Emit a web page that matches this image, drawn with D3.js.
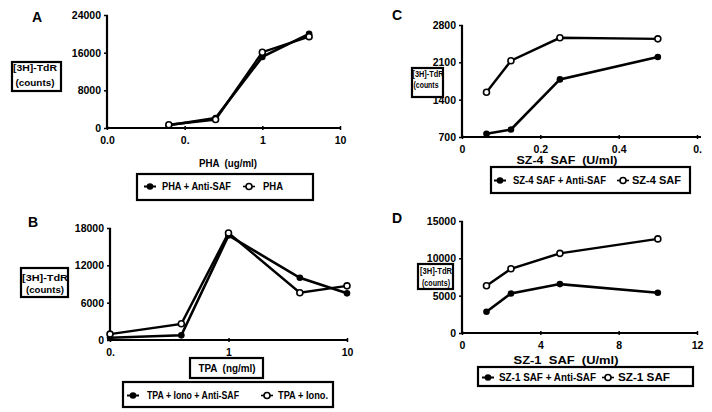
<!DOCTYPE html>
<html><head><meta charset="utf-8">
<script src="https://cdn.jsdelivr.net/npm/d3@7"></script>
<style>
html,body{margin:0;padding:0;background:#fff;}
svg{display:block;}
text{font-family:"Liberation Sans",Arial,sans-serif;font-weight:bold;fill:#000;}
</style></head>
<body><svg id="c" width="712" height="412"></svg>
<script>
// ---- Data ----
const phaX = [0.0625, 0.25, 1, 4];
const phaAntiSAF = [600, 2100, 15100, 20000];
const phaOnly = [700, 1800, 16100, 19400];
const phaTicksX = [0.01, 0.1, 1, 10];
const phaTickLabelsX = ["0.0", "0.", "1", "10"];
const phaTicksY = [0, 8000, 16000, 24000];

const tpaX = [0.1, 0.4, 1, 4, 10];
const tpaAntiSAF = [350, 750, 16800, 10000, 7500];
const tpaOnly = [950, 2600, 17200, 7600, 8700];
const tpaTicksX = [0.1, 1, 10];
const tpaTickLabelsX = ["0.", "1", "10"];
const tpaTicksY = [0, 6000, 12000, 18000];

const sz4X = [0.0625, 0.125, 0.25, 0.5];
const sz4AntiSAF = [760, 840, 1780, 2200];
const sz4Only = [1540, 2130, 2560, 2540];
const sz4TicksX = [0, 0.2, 0.4, 0.6];
const sz4TickLabelsX = ["0", "0.2", "0.4", "0."];
const sz4TicksY = [700, 1400, 2100, 2800];

const sz1X = [1.25, 2.5, 5, 10];
const sz1AntiSAF = [2850, 5300, 6550, 5400];
const sz1Only = [6330, 8600, 10670, 12600];
const sz1TicksX = [0, 4, 8, 12];
const sz1TickLabelsX = ["0", "4", "8", "12"];
const sz1TicksY = [0, 5000, 10000, 15000];

const panels = [
  {letter:"A", lx:32, ly:22, log:true, xd:[0.01,10], xr:[107,340], yd:[0,24000], yr:[128,15],
   xs:phaX, s1:phaAntiSAF, s2:phaOnly, tx:phaTicksX, txl:phaTickLabelsX, ty:phaTicksY,
   xlabel:"PHA  (ug/ml)", xlx:228, xly:167, xlw:58, xbox:null,
   ybox:[12,62,49,29], ylab:["[3H]-TdR","(counts)"], yl:[[35,71,44],[35,86,39]],
   leg:{box:[137,174,176,26], ty:190, m1:150, t1:"PHA + Anti-SAF", tx1:162, tw1:69, m2:249, t2:"PHA", tx2:263, tw2:20}},
  {letter:"B", lx:28, ly:227, log:true, xd:[0.1,10], xr:[110,347], yd:[0,18000], yr:[340,228],
   xs:tpaX, s1:tpaAntiSAF, s2:tpaOnly, tx:tpaTicksX, txl:tpaTickLabelsX, ty:tpaTicksY,
   xlabel:"TPA  (ng/ml)", xlx:227, xly:372, xlw:57, xbox:[190,358,73,20],
   ybox:[21,268,47,29], ylab:["[3H]-TdR","(counts)"], yl:[[45,281,46],[45,293,38]],
   leg:{box:[123,382,210,25], ty:399, m1:133, t1:"TPA + Iono + Anti-SAF", tx1:147, tw1:92, m2:267, t2:"TPA + Iono.", tx2:278, tw2:50}},
  {letter:"C", lx:392, ly:20, log:false, xd:[0,0.6], xr:[462,697], xend:701, yd:[700,2800], yr:[137,25],
   xs:sz4X, s1:sz4AntiSAF, s2:sz4Only, tx:sz4TicksX, txl:sz4TickLabelsX, ty:sz4TicksY,
   xlabel:"SZ-4  SAF  (U/ml)", xlx:567, xly:164, xlw:101, xbox:null,
   ybox:[412,68,31,29], ylab:["[3H]-TdR","(counts"], yl:[[428,77,31],[426,88,25]],
   leg:{box:[491,167,199,26], ty:184, m1:500, t1:"SZ-4 SAF + Anti-SAF", tx1:513, tw1:93, m2:623, t2:"SZ-4 SAF", tx2:632, tw2:49}},
  {letter:"D", lx:392, ly:223, log:false, xd:[0,12], xr:[462,697], yd:[0,15000], yr:[333,221],
   xs:sz1X, s1:sz1AntiSAF, s2:sz1Only, tx:sz1TicksX, txl:sz1TickLabelsX, ty:sz1TicksY,
   xlabel:"SZ-1  SAF  (U/ml)", xlx:566, xly:364, xlw:105, xbox:null,
   ybox:[418,264,35,25], ylab:["[3H]-TdR","(counts)"], yl:[[436,274,32],[436,286,28]],
   leg:{box:[478,367,215,19], ty:381, m1:488, t1:"SZ-1 SAF + Anti-SAF", tx1:499, tw1:97, m2:608, t2:"SZ-1 SAF", tx2:618, tw2:52}}
];

const svg = d3.select("#c");

function filledMarker(g, x, y){
  g.append("circle").attr("cx",x).attr("cy",y).attr("r",3.3).attr("fill","#000");
}
function openMarker(g, x, y){
  g.append("circle").attr("cx",x).attr("cy",y).attr("r",3).attr("fill","#fff")
    .attr("stroke","#000").attr("stroke-width",1.6);
}
function fitText(g, x, y, str, w, size, anchor){
  return g.append("text").attr("x",x).attr("y",y).attr("font-size",size)
    .attr("text-anchor",anchor||"start")
    .attr("textLength",w).attr("lengthAdjust","spacingAndGlyphs")
    .style("white-space","pre").text(str);
}

panels.forEach(p => {
  const g = svg.append("g");
  const x = (p.log ? d3.scaleLog() : d3.scaleLinear()).domain(p.xd).range(p.xr);
  const y = d3.scaleLinear().domain(p.yd).range(p.yr);

  g.append("text").attr("x",p.lx).attr("y",p.ly).attr("font-size",14).text(p.letter);

  // x axis
  const xa = d3.axisBottom(x).tickValues(p.tx).tickFormat((d,i)=>p.txl[i]).tickSizeOuter(0).tickSizeInner(3);
  const gx = g.append("g").attr("transform",`translate(0,${p.yr[0]})`).call(xa);
  gx.select(".domain").remove();
  gx.append("line").attr("x1",p.xr[0]).attr("x2",p.xend||p.xr[1]).attr("y1",0).attr("y2",0)
    .attr("stroke","#000").attr("stroke-width",2.2);
  gx.selectAll(".tick line").attr("y1",-2).attr("y2",2).attr("stroke","#000").attr("stroke-width",1.5);
  gx.selectAll(".tick text").attr("y",9).attr("font-size",10.5)
    .attr("font-family",'"Liberation Sans",Arial,sans-serif').attr("font-weight","bold").attr("fill","#000");

  // y axis
  const ya = d3.axisLeft(y).tickValues(p.ty).tickFormat(d3.format("d")).tickSizeOuter(0).tickSizeInner(3);
  const gy = g.append("g").attr("transform",`translate(${p.xr[0]},0)`).call(ya);
  gy.select(".domain").remove();
  gy.append("line").attr("x1",0).attr("x2",0).attr("y1",p.yr[0]+1).attr("y2",p.yr[1])
    .attr("stroke","#000").attr("stroke-width",2.2);
  gy.selectAll(".tick line").attr("x1",-3).attr("x2",1).attr("stroke","#000").attr("stroke-width",1.5);
  gy.selectAll(".tick text").attr("x",-6).attr("font-size",10.5)
    .attr("font-family",'"Liberation Sans",Arial,sans-serif').attr("font-weight","bold").attr("fill","#000");

  // lines
  const line = d3.line().x((d,i)=>x(p.xs[i])).y(d=>y(d));
  g.append("path").datum(p.s2).attr("d",line).attr("fill","none").attr("stroke","#000").attr("stroke-width",2.4);
  g.append("path").datum(p.s1).attr("d",line).attr("fill","none").attr("stroke","#000").attr("stroke-width",2.6);
  p.s1.forEach((v,i)=>filledMarker(g, x(p.xs[i]), y(v)));
  p.s2.forEach((v,i)=>openMarker(g, x(p.xs[i]), y(v)));

  // x label
  if (p.xbox) {
    g.append("rect").attr("x",p.xbox[0]).attr("y",p.xbox[1]).attr("width",p.xbox[2]).attr("height",p.xbox[3])
      .attr("fill","#fff").attr("stroke","#000").attr("stroke-width",2.2);
  }
  fitText(g, p.xlx, p.xly, p.xlabel, p.xlw, 10.5, "middle");

  // y label box
  const yb = p.ybox;
  g.append("rect").attr("x",yb[0]).attr("y",yb[1]).attr("width",yb[2]).attr("height",yb[3])
    .attr("fill","#fff").attr("stroke","#000").attr("stroke-width",2.2);
  fitText(g, p.yl[0][0], p.yl[0][1], p.ylab[0], p.yl[0][2], 9.5, "middle");
  fitText(g, p.yl[1][0], p.yl[1][1], p.ylab[1], p.yl[1][2], 9.5, "middle");

  // legend
  const L = p.leg;
  g.append("rect").attr("x",L.box[0]).attr("y",L.box[1]).attr("width",L.box[2]).attr("height",L.box[3])
    .attr("fill","#fff").attr("stroke","#000").attr("stroke-width",2.2);
  const my = L.ty - 3.5;
  g.append("line").attr("x1",L.m1-6).attr("x2",L.m1+6).attr("y1",my).attr("y2",my).attr("stroke","#000").attr("stroke-width",2);
  filledMarker(g, L.m1, my);
  fitText(g, L.tx1, L.ty, L.t1, L.tw1, 10);
  g.append("line").attr("x1",L.m2-6).attr("x2",L.m2+6).attr("y1",my).attr("y2",my).attr("stroke","#000").attr("stroke-width",1.6);
  openMarker(g, L.m2, my);
  fitText(g, L.tx2, L.ty, L.t2, L.tw2, 10);
});
</script></body></html>
